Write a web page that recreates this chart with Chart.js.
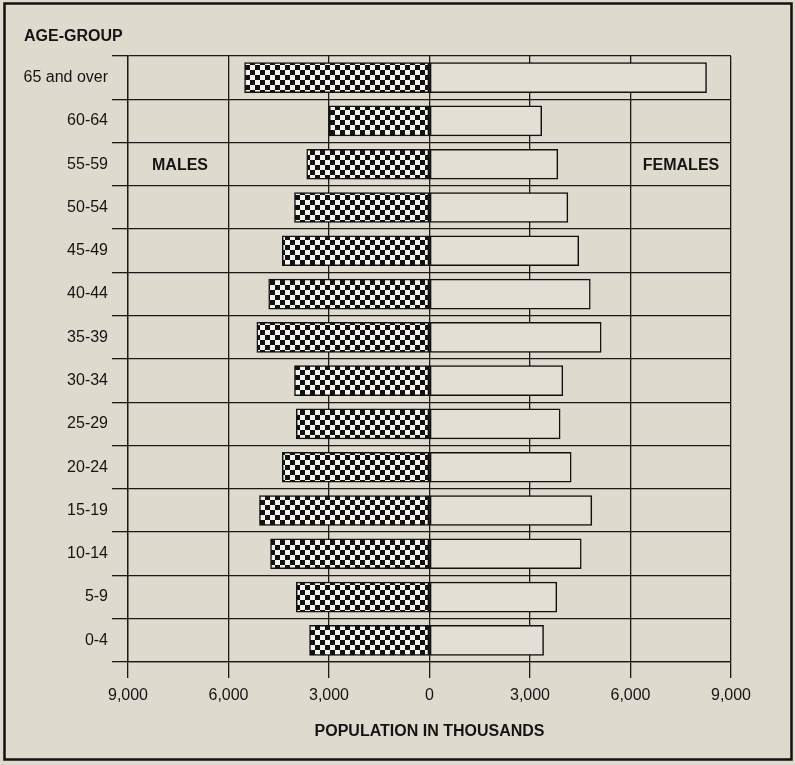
<!DOCTYPE html>
<html>
<head>
<meta charset="utf-8">
<script src="https://cdn.jsdelivr.net/npm/chart.js@4.4.1/dist/chart.umd.min.js"></script>
<style>
  html, body { margin: 0; padding: 0; background: #dfdace; }
  #wrap { position: relative; width: 795px; height: 765px; }
  canvas { display: block; }
</style>
</head>
<body>
<div id="wrap"><canvas id="c" width="795" height="765"></canvas></div>
<script>
const categories = ['65 and over','60-64','55-59','50-54','45-49','40-44','35-39','30-34','25-29','20-24','15-19','10-14','5-9','0-4'];
const males   = [5520, 2990, 3665, 4030, 4395, 4800, 5155, 4030, 3975, 4395, 5075, 4745, 3975, 3580];
const females = [8270, 3350, 3830, 4130, 4455, 4800, 5125, 3980, 3900, 4230, 4845, 4530, 3800, 3405];
const xTicks = [-9000, -6000, -3000, 0, 3000, 6000, 9000];

const BG = '#dfdace';
const INK = '#141414';
const FONT = '"Liberation Sans", Arial, Helvetica, sans-serif';

function checker() {
  const s = 5;
  const p = document.createElement('canvas');
  p.width = s * 2; p.height = s * 2;
  const g = p.getContext('2d');
  g.fillStyle = '#f4f3ee';
  g.fillRect(0, 0, s * 2, s * 2);
  g.fillStyle = '#111';
  g.fillRect(0, 0, s, s);
  g.fillRect(s, s, s, s);
  return g.createPattern(p, 'repeat');
}

const decor = {
  id: 'decor',
  beforeDraw(chart) {
    const ctx = chart.ctx;
    ctx.save();
    ctx.fillStyle = BG;
    ctx.fillRect(0, 0, chart.width, chart.height);
    ctx.strokeStyle = '#111';
    ctx.lineWidth = 2.5;
    ctx.strokeRect(4.5, 3.5, 787, 756);
    ctx.restore();
  },
  afterDraw(chart) {
    const ctx = chart.ctx;
    const y = chart.scales.y;
    ctx.save();
    ctx.fillStyle = INK;
    ctx.font = 'bold 16px ' + FONT;
    ctx.textBaseline = 'middle';
    ctx.textAlign = 'left';
    ctx.fillText('AGE-GROUP', 24, 37);
    const yr = y.getPixelForValue(2) + 1;
    ctx.textAlign = 'center';
    ctx.fillText('MALES', 180, yr);
    ctx.fillText('FEMALES', 681, yr);
    ctx.restore();
  }
};

const pat = checker();

new Chart(document.getElementById('c'), {
  type: 'bar',
  data: {
    labels: categories,
    datasets: [
      {
        label: 'Males',
        data: males.map(v => -v),
        backgroundColor: pat,
        borderColor: '#111',
        borderWidth: 1.5,
        borderSkipped: false
      },
      {
        label: 'Females',
        data: females,
        backgroundColor: '#e3dfd4',
        borderColor: '#111',
        borderWidth: 1.5,
        borderSkipped: false
      }
    ]
  },
  options: {
    indexAxis: 'y',
    responsive: false,
    animation: false,
    devicePixelRatio: 1,
    layout: { padding: { top: 56, right: 64, left: 0, bottom: 0 } },
    datasets: { bar: { barThickness: 30 } },
    plugins: {
      legend: { display: false },
      tooltip: { enabled: false }
    },
    scales: {
      x: {
        stacked: true,
        min: -9000,
        max: 9000,
        afterBuildTicks(scale) { scale.ticks = xTicks.map(v => ({ value: v })); },
        afterFit(scale) { scale.height = 103; },
        grid: { color: '#1a1a1a', lineWidth: 1.3, tickLength: 16, drawOnChartArea: true },
        border: { color: '#1a1a1a', width: 1.3 },
        ticks: {
          color: INK,
          font: { family: FONT, size: 16 },
          padding: 8,
          maxRotation: 0,
          autoSkip: false,
          callback: v => Math.abs(v).toLocaleString('en-US')
        },
        title: {
          display: true,
          text: 'POPULATION IN THOUSANDS',
          color: INK,
          font: { family: FONT, size: 16, weight: 'bold' },
          padding: { top: 0, bottom: 24 }
        }
      },
      y: {
        stacked: true,
        afterFit(scale) { scale.width = 128; },
        grid: { color: '#1a1a1a', lineWidth: 1.3, tickLength: 16, offset: true },
        border: { color: '#1a1a1a', width: 1.3 },
        ticks: {
          color: INK,
          font: { family: FONT, size: 16 },
          padding: 4,
          autoSkip: false
        }
      }
    }
  },
  plugins: [decor]
});
</script>
</body>
</html>
